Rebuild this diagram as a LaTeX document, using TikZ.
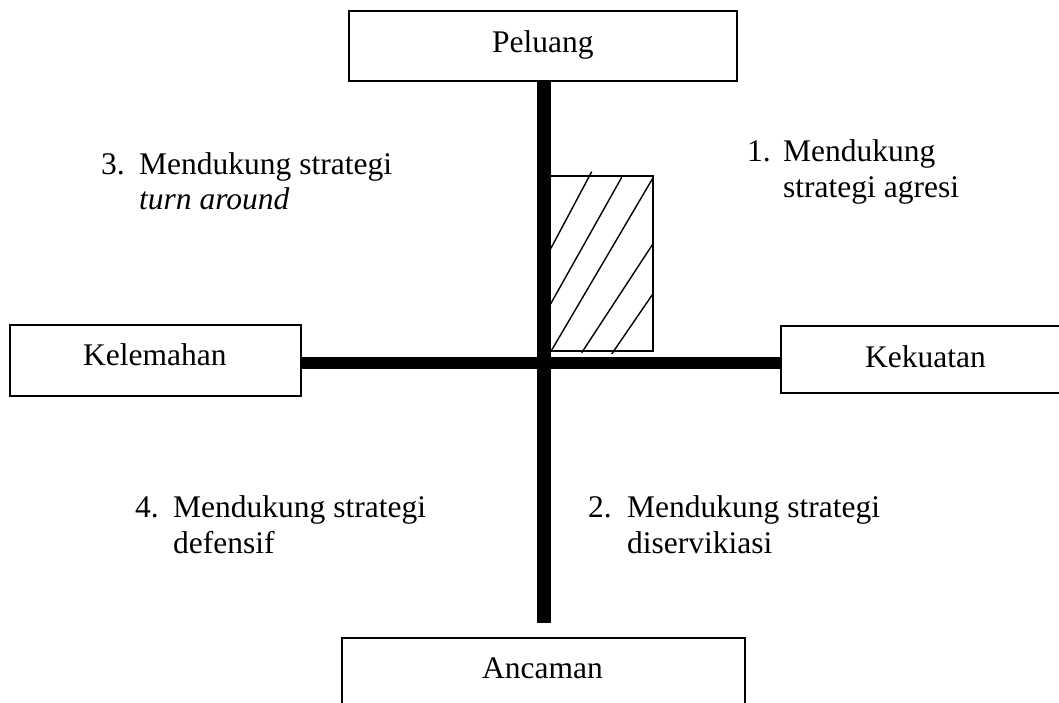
\documentclass[tikz,border=0pt]{standalone}
\usepackage{fontspec}
\setmainfont{Liberation Serif}
\begin{document}
\begin{tikzpicture}[x=1pt,y=-1pt,
  box/.style={draw,line width=1.5pt,fill=white,inner sep=0pt,font=\fontsize{31.5}{38}\selectfont},
  lbl/.style={anchor=base west,inner sep=0pt,font=\fontsize{31.5}{38}\selectfont},
  bar/.style={line width=13pt,black},
  hatch/.style={line width=1.4pt}]
\useasboundingbox (0,0) rectangle (1059,703);
% boxes
\node[box,minimum width=388pt,minimum height=70pt] (peluang) at (543,46) {};
\node[lbl] (peluangt) at (492,53) {Peluang};
\node[box,minimum width=291pt,minimum height=71pt] (kelemahan) at (155.5,360.5) {};
\node[lbl] (kelemahant) at (83,365) {Kelemahan};
\node[box,minimum width=292pt,minimum height=67pt] (kekuatan) at (927,359.5) {};
\node[lbl] (kekuatant) at (865,367) {Kekuatan};
\node[box,minimum width=403pt,minimum height=80pt] (ancaman) at (543.5,678) {};
\node[lbl] (ancamant) at (482,678) {Ancaman};
% hatched rectangle
\draw[line width=1.4pt] (550,176) rectangle (653,351);
\draw[hatch] (591.7,171.7) -- (550,250);
\draw[hatch] (621.7,177.3) -- (550,305);
\draw[hatch] (653.3,177.3) -- (551.7,350);
\draw[hatch] (653.3,243.3) -- (581.7,352.7);
\draw[hatch] (653.3,293.3) -- (611.7,354);
% axes
\coordinate (vtop) at (544,81);
\coordinate (vbot) at (544,623);
\draw[line width=14pt] (vtop) -- (vbot);
\draw[line width=12pt] (kelemahan.east |- 0,363) -- (kekuatan.west |- 0,363);
% labels
\node[lbl] (n3) at (101,175) {3.};
\node[lbl] (t3a) at (139,175) {Mendukung strategi};
\node[lbl] (t3b) at (139,210) {\itshape turn around};
\node[lbl] (n1) at (747,162) {1.};
\node[lbl] (t1a) at (783,162) {Mendukung};
\node[lbl] (t1b) at (783,198) {strategi agresi};
\node[lbl] (n4) at (135,517) {4.};
\node[lbl] (t4a) at (173,517) {Mendukung strategi};
\node[lbl] (t4b) at (173,553) {defensif};
\node[lbl] (n2) at (588,517) {2.};
\node[lbl] (t2a) at (627,517) {Mendukung strategi};
\node[lbl] (t2b) at (627,553) {diservikiasi};
\end{tikzpicture}
\end{document}
